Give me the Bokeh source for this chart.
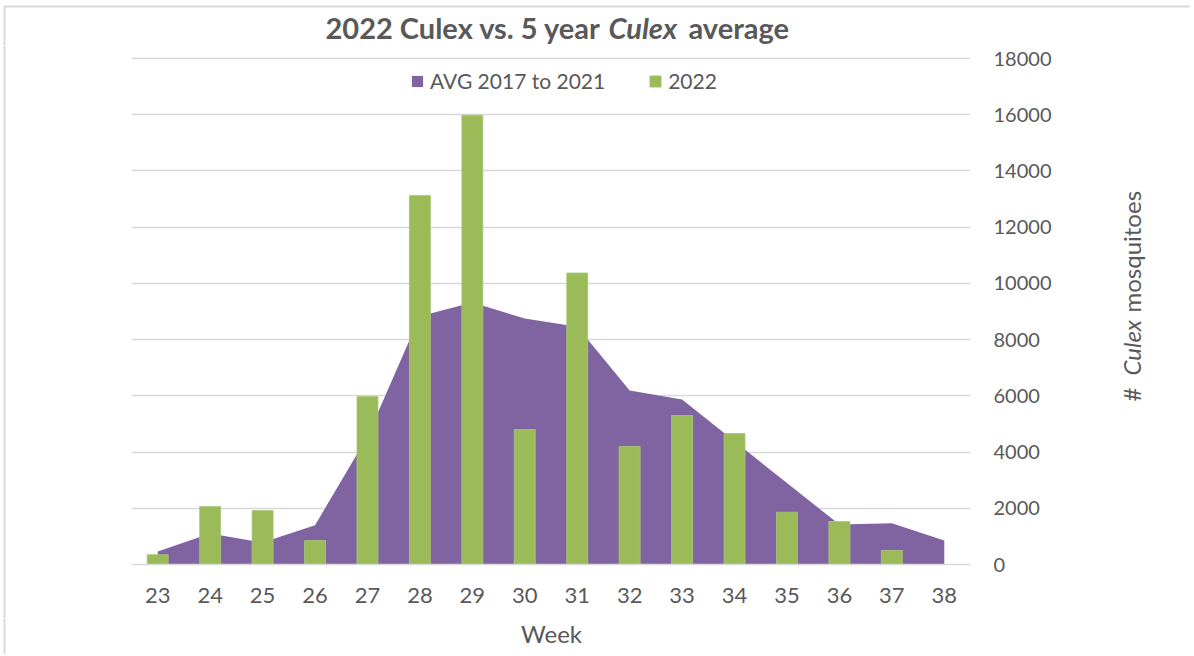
from bokeh.plotting import figure
from bokeh.models import Range1d, FixedTicker, Legend, LegendItem
from bokeh.layouts import column, row
from bokeh.core.properties import value
from bokeh.embed import file_html
from bokeh.resources import INLINE

weeks = [23, 24, 25, 26, 27, 28, 29, 30, 31, 32, 33, 34, 35, 36, 37, 38]
avg_2017_2021 = [460, 1100, 780, 1400, 4550, 8830, 9320, 8750, 8460, 6190, 5870, 4380, 2900, 1420, 1470, 850]
weeks_2022 = [23, 24, 25, 26, 27, 28, 29, 30, 31, 32, 33, 34, 35, 36, 37]
culex_2022 = [350, 2060, 1920, 850, 5980, 13130, 15980, 4800, 10370, 4200, 5300, 4660, 1860, 1530, 500]
y_ticks = [0, 2000, 4000, 6000, 8000, 10000, 12000, 14000, 16000, 18000]

title_parts = ["2022 Culex vs. 5 year", "Culex", "average"]
title_styles = ["bold", "bold italic", "bold"]
ylab_parts = ["#", "Culex", "mosquitoes"]
ylab_styles = ["normal", "italic", "normal"]
x_label = "Week"

PURPLE = "#8064A2"
GREEN = "#9BBB59"
TXT = "#595959"
BORDER = "#d9d9d9"
FONT = "Lato"

TOP_H = 45
MID_H = 573


def blank(w, h):
    f = figure(width=w, height=h, output_backend="svg", toolbar_location=None,
               x_range=Range1d(0, w), y_range=Range1d(0, h),
               x_axis_type=None, y_axis_type=None, min_border=0, title=None)
    f.outline_line_color = None
    f.grid.visible = False
    f.frame_align = False
    return f


# ---- title strip ----
tf = blank(1190, TOP_H)
for txt, style, xs in zip(title_parts, title_styles, [325, 608, 688]):
    tf.text(x=[xs], y=[18], text=[txt], text_font=value(FONT), text_font_style=style,
            text_font_size="29px", text_color=TXT, text_align="left", text_baseline="alphabetic")
tf.line(x=[4, 4, 1190], y=[0, 39, 39], line_color=BORDER, line_width=2)

# ---- left border strip ----
lf = blank(8, MID_H)
lf.line(x=[4, 4], y=[0, MID_H], line_color=BORDER, line_width=2)

# ---- main chart ----
p = figure(width=1092, height=MID_H, output_backend="svg", toolbar_location=None, title=None,
           x_range=Range1d(22.5, 38.5), y_range=Range1d(0, 18071),
           y_axis_location="right",
           min_border_left=123, min_border_right=130, min_border_top=11, min_border_bottom=54)
p.outline_line_color = None
p.frame_align = False

area = p.varea(x=weeks, y1=0, y2=avg_2017_2021, fill_color=PURPLE)
bars = p.vbar(x=weeks_2022, top=culex_2022, width=0.4, fill_color=GREEN,
              line_color="#a9c77a", line_width=0.8)

p.xgrid.visible = False
p.ygrid.grid_line_color = BORDER
p.ygrid.grid_line_width = 1.3
p.ygrid.ticker = FixedTicker(ticks=y_ticks)

xa = p.xaxis[0]
xa.ticker = FixedTicker(ticks=weeks)
xa.axis_line_color = BORDER
xa.axis_line_width = 1.5
xa.major_tick_line_color = None
xa.minor_tick_line_color = None
xa.major_tick_out = 0
xa.major_label_standoff = 23
xa.major_label_text_font = FONT
xa.major_label_text_font_size = "22px"
xa.major_label_text_color = TXT

ya = p.yaxis[0]
ya.ticker = FixedTicker(ticks=y_ticks)
ya.axis_line_color = None
ya.major_tick_line_color = None
ya.minor_tick_line_color = None
ya.major_tick_out = 0
ya.major_label_standoff = 23
ya.major_label_text_font = FONT
ya.major_label_text_font_size = "20px"
ya.major_label_text_color = TXT

legend = Legend(items=[LegendItem(label="AVG 2017 to 2021", renderers=[area]),
                       LegendItem(label="2022", renderers=[bars])],
                orientation="horizontal", location=(279, 471),
                border_line_color=None, background_fill_alpha=0,
                padding=0, margin=0, spacing=43, label_standoff=6,
                glyph_width=14, glyph_height=14, label_height=14,
                label_text_font=FONT, label_text_font_size="21px", label_text_color=TXT)
p.add_layout(legend, "center")

# ---- right axis title strip (rotated, mixed italic) ----
yf = blank(90, MID_H)
for txt, style, ys in zip(ylab_parts, ylab_styles, [217, 243, 306]):
    yf.text(x=[31], y=[ys], text=[txt], angle=1.5708, text_font=value(FONT), text_font_style=style,
            text_font_size="24px", text_color=TXT, text_align="left", text_baseline="alphabetic")

# ---- x axis title strip ----
wf = blank(1190, 36)
wf.text(x=[551], y=[21], text=[x_label], text_font=value(FONT), text_font_size="24px",
        text_color=TXT, text_align="center", text_baseline="alphabetic")
wf.line(x=[4, 4], y=[0, 36], line_color=BORDER, line_width=2)

layout = column(tf, row(lf, p, yf), wf)
open("out.html", "w").write(file_html(layout, INLINE))
